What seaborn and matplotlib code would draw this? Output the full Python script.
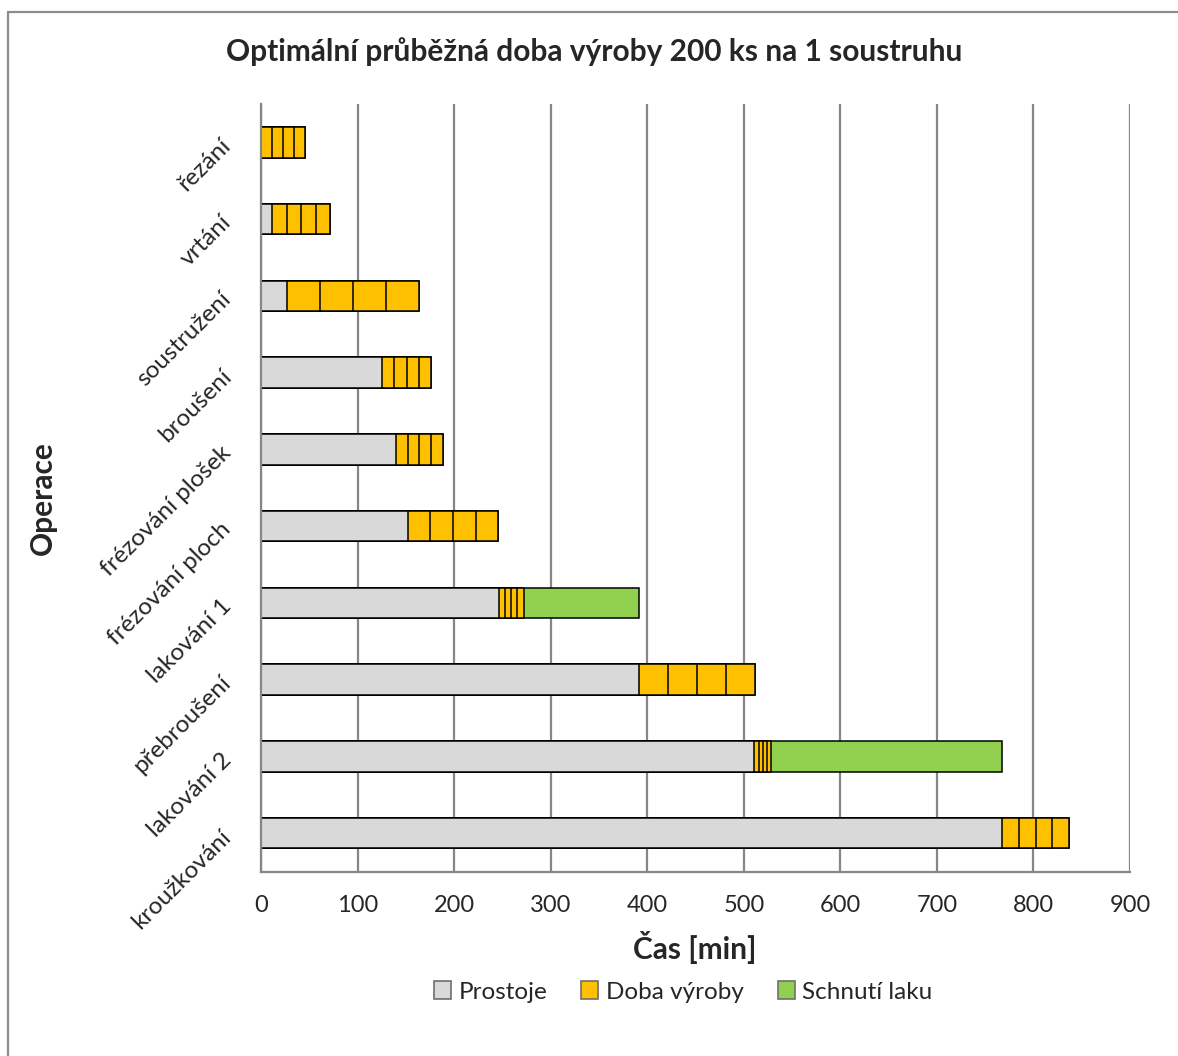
import numpy as np
import pandas as pd
import seaborn as sns
import matplotlib.pyplot as plt
from matplotlib.patches import Patch, Rectangle

sns.set_style('white')
plt.rcParams['font.family'] = ['Lato', 'DejaVu Sans']

# data (minuty)
operace = ['řezání', 'vrtání', 'soustružení', 'broušení', 'frézování plošek',
           'frézování ploch', 'lakování 1', 'přebroušení', 'lakování 2', 'kroužkování']
prostoje = [0, 11.4, 26.4, 125.7, 140.0, 151.8, 246.0, 391.8, 511.0, 767.1]
# doba výroby jedné dávky, každá operace má 4 dávky
davka = [11.4, 15.0, 34.2, 12.5, 12.0, 23.5, 6.5, 29.9, 4.2, 17.5]
pocet_davek = 4
schnuti = [0, 0, 0, 0, 0, 0, 119.8, 0, 239.2, 0]
xticks = list(range(0, 901, 100))

barvy = {'Prostoje': '#D9D9D9', 'Doba výroby': '#FFC000', 'Schnutí laku': '#92D050'}
seda = '#868686'

df = pd.DataFrame({'operace': operace, 'prostoje': prostoje,
                   'davka': davka, 'schnuti': schnuti})

# vrstvy od nejdelší po nejkratší (kumulativní konce), kreslené přes sebe
vrstvy = [(df.prostoje + pocet_davek * df.davka + df.schnuti, barvy['Schnutí laku'])]
for k in range(pocet_davek, 0, -1):
    vrstvy.append((df.prostoje + k * df.davka, barvy['Doba výroby']))
vrstvy.append((df.prostoje, barvy['Prostoje']))

fig = plt.figure(figsize=(11.78, 10.56), dpi=100)
ax = fig.add_axes([0.2216, 0.1747, 0.7377, 0.7268])

for konec, barva in vrstvy:
    sns.barplot(x=konec, y=df.operace, order=operace, orient='y', color=barva,
                saturation=1, width=0.4, edgecolor='black', linewidth=1.1,
                errorbar=None, ax=ax)

ax.set_xlim(0, 900)
ax.set_ylim(len(operace) - 0.5, -0.5)
ax.set_xlabel('')
ax.set_ylabel('')

ax.grid(axis='x', color=seda, linewidth=1.6)
ax.set_axisbelow(True)
for s in ['top', 'right']:
    ax.spines[s].set_visible(False)
for s in ['left', 'bottom']:
    ax.spines[s].set_color(seda)
    ax.spines[s].set_linewidth(1.6)

ax.set_xticks(xticks)
ax.set_xticklabels([str(v) for v in xticks])
ax.tick_params(axis='x', length=5, width=1.5, color=seda, pad=12, labelsize=17)

ax.set_yticks(range(len(operace)))
ax.set_yticklabels(operace, rotation=45, ha='right', va='center',
                   rotation_mode='anchor', fontsize=17.5)
ax.set_yticks(np.arange(-0.5, len(operace)), minor=True)
ax.tick_params(axis='y', which='major', length=0, pad=24)
ax.tick_params(axis='y', which='minor', length=6, width=1.5, color=seda)

fig.text(0.504, 0.9508, 'Optimální průběžná doba výroby 200 ks na 1 soustruhu',
         ha='center', va='center', fontsize=21.5, fontweight='bold')
fig.text(0.0365, 0.528, 'Operace', rotation=90, ha='center', va='center',
         fontsize=21.5, fontweight='bold')
fig.text(0.590, 0.1023, 'Čas [min]', ha='center', va='center',
         fontsize=21.5, fontweight='bold')

handles = [Patch(facecolor=c, edgecolor='#6e6e6e', linewidth=1.2) for c in barvy.values()]
fig.legend(handles, list(barvy.keys()), loc='center', bbox_to_anchor=(0.58, 0.0606),
           ncol=3, frameon=False, fontsize=17.5, handlelength=0.7, handleheight=0.7,
           columnspacing=1.4, handletextpad=0.3)

fig.add_artist(Rectangle((8 / 1178, -0.05), 1.1, 1 - 12 / 1056 + 0.05,
                         transform=fig.transFigure, fill=False,
                         edgecolor='#8c8c8c', linewidth=1.6))

fig.savefig('out.png', dpi=100)
